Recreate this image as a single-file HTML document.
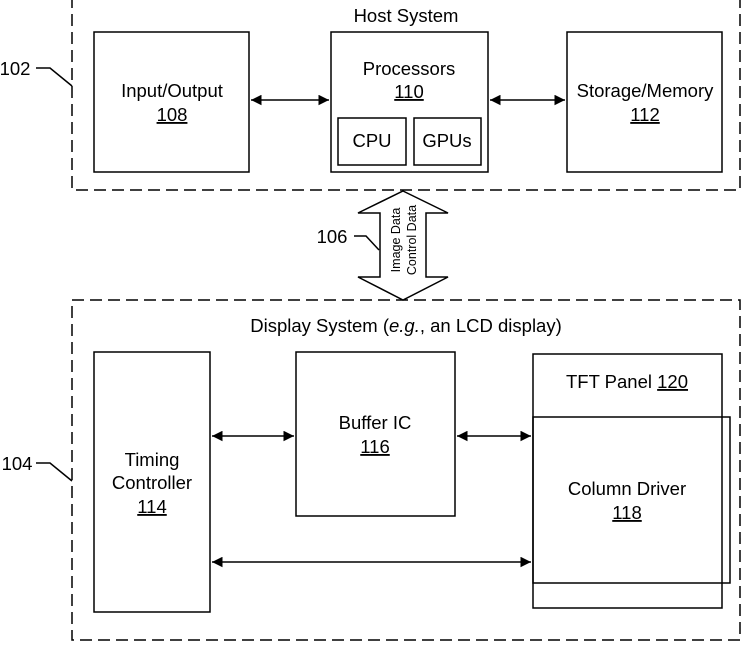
<!DOCTYPE html>
<html><head><style>
body{margin:0;background:#fff;}
svg text{font-family:"Liberation Sans",sans-serif;fill:#000;}
</style></head><body>
<svg width="742" height="643" viewBox="0 0 742 643" xmlns="http://www.w3.org/2000/svg">
<defs>
<marker id="a" viewBox="0 0 10 10" refX="10" refY="5" markerWidth="7" markerHeight="7" orient="auto-start-reverse"><path d="M0,0 L10,5 L0,10 z" fill="#000"/></marker>
</defs>
<g fill="none" stroke="#000" stroke-width="1.5">
<rect x="72" y="-2" width="668" height="192" stroke-dasharray="12,6"/>
<rect x="72" y="300" width="668" height="340" stroke-dasharray="12,6"/>
<rect x="94" y="32" width="155" height="140"/>
<rect x="331" y="32" width="157" height="140"/>
<rect x="338" y="118" width="68" height="47"/>
<rect x="414" y="118" width="67" height="47"/>
<rect x="567" y="32" width="155" height="140"/>
<rect x="94" y="352" width="116" height="260"/>
<rect x="296" y="352" width="159" height="164"/>
<rect x="533" y="354" width="189" height="254"/>
<rect x="533" y="417" width="197" height="166"/>
<line x1="251" y1="100" x2="329" y2="100" marker-start="url(#a)" marker-end="url(#a)"/>
<line x1="490" y1="100" x2="565" y2="100" marker-start="url(#a)" marker-end="url(#a)"/>
<line x1="212" y1="436" x2="294" y2="436" marker-start="url(#a)" marker-end="url(#a)"/>
<line x1="457" y1="436" x2="531" y2="436" marker-start="url(#a)" marker-end="url(#a)"/>
<line x1="212" y1="562" x2="531" y2="562" marker-start="url(#a)" marker-end="url(#a)"/>
<path d="M403,191 L448,213 L426,213 L426,277 L448,277 L403,300 L358,277 L380,277 L380,213 L358,213 Z" fill="#fff"/>
<path d="M36,68 L50,68 L72,86"/>
<path d="M36,463 L50,463 L72,481"/>
<path d="M354,236 L366,236 L379,250"/>
</g>
<g font-size="18.5" text-anchor="middle">
<text x="406" y="22">Host System</text>
<text x="172" y="97">Input/Output</text>
<text x="172" y="121" text-decoration="underline">108</text>
<text x="409" y="75">Processors</text>
<text x="409" y="98" text-decoration="underline">110</text>
<text x="372" y="147">CPU</text>
<text x="447" y="147">GPUs</text>
<text x="645" y="97">Storage/Memory</text>
<text x="645" y="121" text-decoration="underline">112</text>
<text x="406" y="332">Display System (<tspan font-style="italic">e.g.</tspan>, an LCD display)</text>
<text x="152" y="466">Timing</text>
<text x="152" y="489">Controller</text>
<text x="152" y="513" text-decoration="underline">114</text>
<text x="375" y="429">Buffer IC</text>
<text x="375" y="453" text-decoration="underline">116</text>
<text x="627" y="388">TFT Panel <tspan text-decoration="underline">120</tspan></text>
<text x="627" y="495">Column Driver</text>
<text x="627" y="519" text-decoration="underline">118</text>
<text x="15" y="75">102</text>
<text x="17" y="470">104</text>
<text x="332" y="243">106</text>
</g>
<g font-size="12.5" text-anchor="middle">
<text transform="translate(400,240) rotate(-90)">Image Data</text>
<text transform="translate(416,240) rotate(-90)">Control Data</text>
</g>
</svg>
</body></html>
